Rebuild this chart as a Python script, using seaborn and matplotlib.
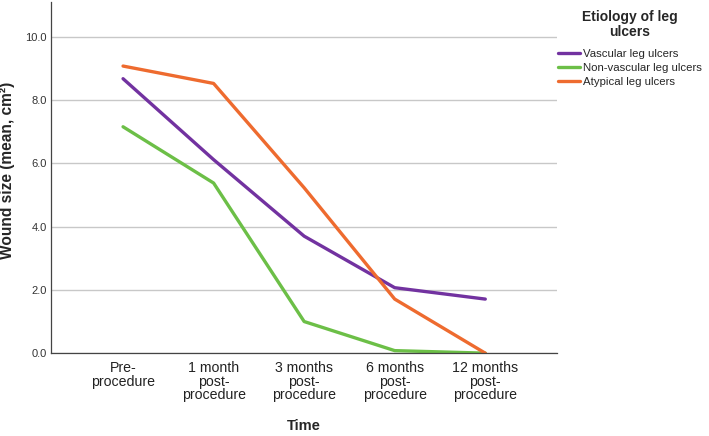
import pandas as pd
import seaborn as sns
import matplotlib.pyplot as plt

# dados
tempos = ["Pre-\nprocedure", "1 month\npost-\nprocedure", "3 months\npost-\nprocedure",
          "6 months\npost-\nprocedure", "12 months\npost-\nprocedure"]
vascular = [8.68, 6.12, 3.70, 2.07, 1.71]
nao_vascular = [7.16, 5.38, 1.00, 0.08, 0.00]
atipica = [9.08, 8.53, 5.23, 1.71, 0.00]
grupos = ["Vascular leg ulcers", "Non-vascular leg ulcers", "Atypical leg ulcers"]
cores = ["#7232A0", "#6CBF47", "#EE6B2F"]

df = pd.DataFrame({
    "tempo": tempos * 3,
    "valor": vascular + nao_vascular + atipica,
    "grupo": [g for g in grupos for _ in tempos],
})

sns.set_theme(style="white")
plt.rcParams["font.family"] = ["Liberation Sans", "DejaVu Sans"]

fig = plt.figure(figsize=(7.09, 4.36), dpi=100)
ax = fig.add_axes([0.072, 0.19, 0.714, 0.805])

sns.lineplot(data=df, x="tempo", y="valor", hue="grupo", palette=cores,
             linewidth=2.4, sort=False, ax=ax, legend=False)

ax.set_xlim(-0.795, 4.795)
ax.set_ylim(0, 11.1)
ax.set_yticks([0, 2, 4, 6, 8, 10])
ax.set_yticklabels([f"{v:.1f}" for v in [0, 2, 4, 6, 8, 10]], fontsize=8, color="#333333")
ax.set_xticks(range(len(tempos)))
ax.set_xticklabels(tempos, fontsize=10.2, color="#222222", linespacing=0.95)
ax.tick_params(axis="y", length=0, pad=3)
ax.tick_params(axis="x", length=0, pad=6)
ax.yaxis.grid(True, color="#c8c8c8", linewidth=1)
ax.set_axisbelow(True)
for lado in ["top", "right"]:
    ax.spines[lado].set_visible(False)
for lado in ["left", "bottom"]:
    ax.spines[lado].set_color("#444444")
    ax.spines[lado].set_linewidth(0.9)

ax.set_xlabel("Time", fontsize=10.5, weight="bold")
ax.set_ylabel("Wound size (mean, cm²)", fontsize=11.2, weight="bold")
ax.xaxis.set_label_coords(0.5, -0.187)
ax.yaxis.set_label_coords(-0.071, 0.522)

handles = [plt.Line2D([], [], color=c, linewidth=2.4) for c in cores]
leg = fig.legend(handles, grupos, title="Etiology of leg\nulcers", loc="upper left",
                 bbox_to_anchor=(0.773, 1.0), frameon=False, fontsize=8.2,
                 title_fontproperties={"weight": "bold", "size": 10},
                 handlelength=1.9, handletextpad=0.25, labelspacing=0.35,
                 alignment="center")
leg.get_title().set_multialignment("center")
leg.get_title().set_linespacing(1.05)
leg._legend_box.sep = 7.5  # espaco entre titulo e itens

fig.savefig("out.png", dpi=100)
